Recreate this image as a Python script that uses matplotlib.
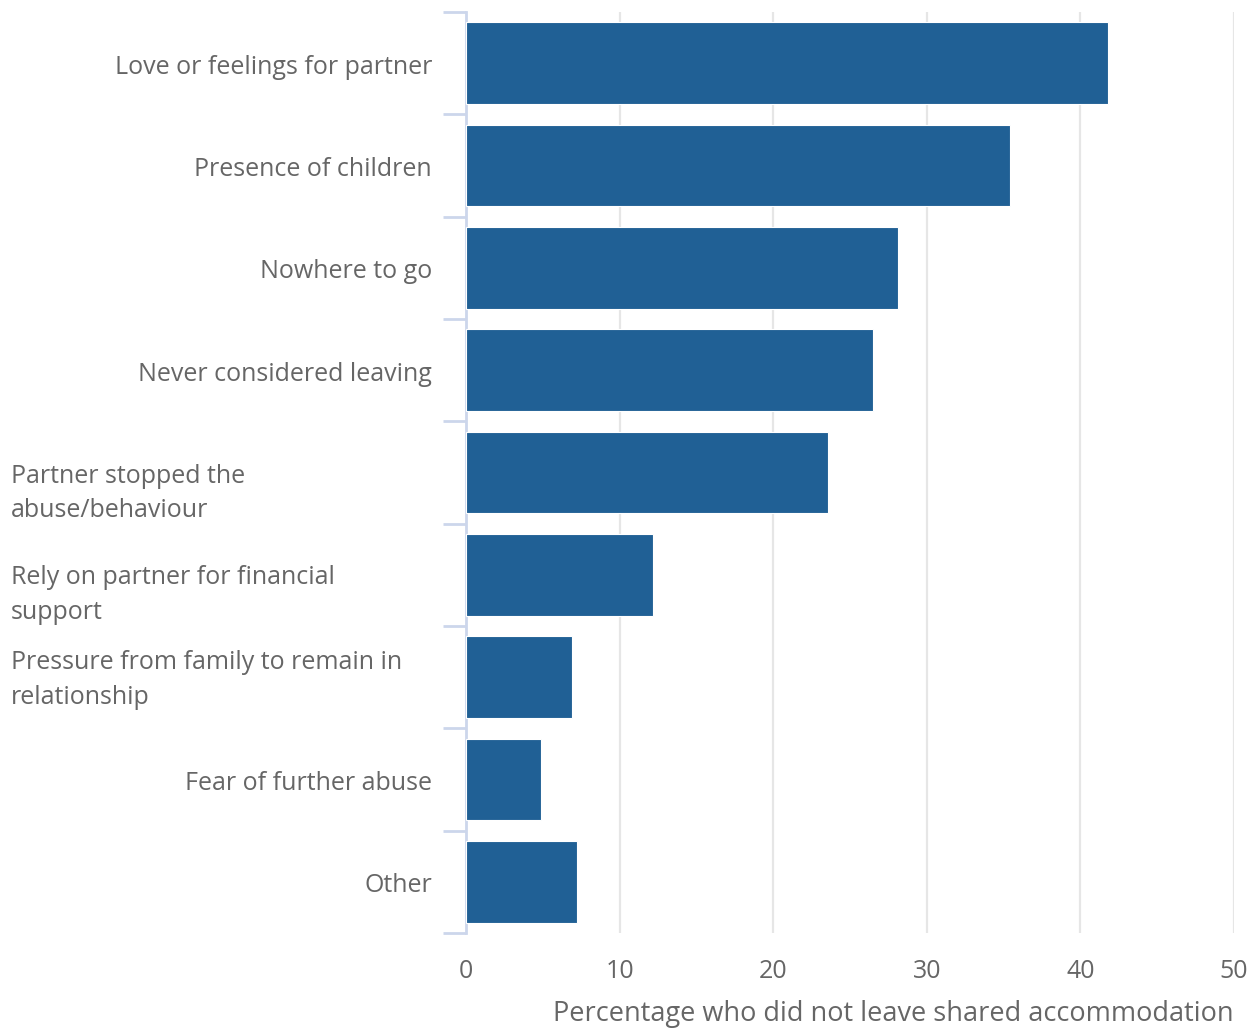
import matplotlib.pyplot as plt
import matplotlib.transforms as mtransforms

plt.rcParams['font.family'] = ['Open Sans', 'DejaVu Sans']

reasons = ["Love or feelings for partner", "Presence of children", "Nowhere to go",
           "Never considered leaving", "Partner stopped the\nabuse/behaviour",
           "Rely on partner for financial\nsupport",
           "Pressure from family to remain in\nrelationship",
           "Fear of further abuse", "Other"]
percent = [41.8, 35.4, 28.1, 26.5, 23.6, 12.2, 6.9, 4.9, 7.2]
x_ticks = [0, 10, 20, 30, 40, 50]

bar_col = "#206095"
txt_col = "#666666"
axis_col = "#ccd6eb"

fig = plt.figure(figsize=(12.57, 10.29), dpi=100)
W, H = 1257, 1029
ax = fig.add_axes([466 / W, 1 - 933 / H, (1234 - 466) / W, (933 - 12) / H])

pos = list(range(len(reasons)))
ax.barh(pos, percent, height=0.8, color=bar_col, edgecolor="white", linewidth=0.8, zorder=3)

ax.set_xlim(0, 50)
ax.set_ylim(len(reasons) - 0.5, -0.5)
ax.set_xticks(x_ticks)
ax.set_xticklabels([str(t) for t in x_ticks])
ax.tick_params(axis="x", length=0, pad=19, labelsize=18, labelcolor=txt_col)
for t in x_ticks[1:]:
    ax.axvline(t, color="#e6e6e6", lw=1.6, zorder=1)

# y axis: ticks on category boundaries, labels drawn as text
ax.set_yticks([p - 0.5 for p in pos] + [len(reasons) - 0.5])
ax.set_yticklabels([])
ax.tick_params(axis="y", length=16.5, width=2, color=axis_col)

for s in ["top", "right", "bottom"]:
    ax.spines[s].set_visible(False)
ax.spines["left"].set_color(axis_col)
ax.spines["left"].set_linewidth(2)

# wrapped labels sit lower in the original, except the last one
shift_px = {4: 21, 5: 20, 6: 3}
for p, lab in zip(pos, reasons):
    if "\n" in lab:
        off = mtransforms.ScaledTranslation(0, -shift_px[p] / 100, fig.dpi_scale_trans)
        trans = mtransforms.blended_transform_factory(fig.transFigure, ax.transData) + off
        ax.text(11 / W, p, lab, transform=trans, ha="left", va="center",
                fontsize=18, color=txt_col, linespacing=1.5)
    else:
        off = mtransforms.ScaledTranslation(0, -4 / 100, fig.dpi_scale_trans)
        trans = mtransforms.blended_transform_factory(fig.transFigure, ax.transData) + off
        ax.text(432 / W, p, lab, transform=trans, ha="right", va="center",
                fontsize=18, color=txt_col)

ax.set_xlabel("Percentage who did not leave shared accommodation", loc="right",
              fontsize=19.5, color=txt_col, labelpad=11)

fig.savefig("out.png", dpi=100, facecolor="white")
